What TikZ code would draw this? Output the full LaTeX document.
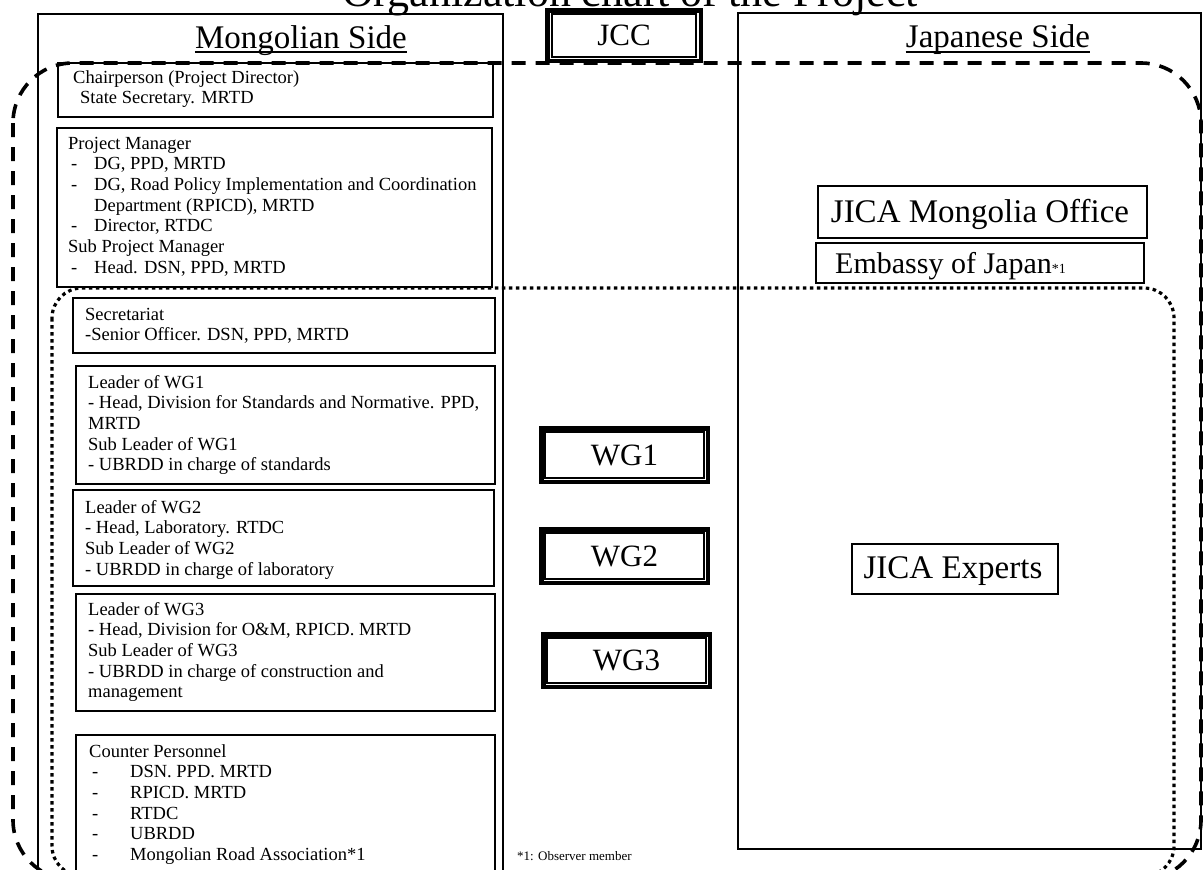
\documentclass[tikz,border=0pt]{standalone}
\usepackage{fontspec}
\setmainfont{Liberation Serif}
\newcommand\bodyfont{\fontsize{18.5}{20.7}\selectfont}
\newcommand\dsh{\makebox[23pt][l]{-}}
\newcommand\cdsh{\hspace*{3pt}\makebox[38pt][l]{-}}
\tikzset{
  box/.style={draw, line width=2.2pt, inner sep=0pt, anchor=north west},
  dblbox/.style={draw, line width=4.5pt, inner sep=0pt, font=\fontsize{31}{36}\selectfont},
  inner/.style={line width=1.3pt},
  txt/.style={inner sep=0pt, anchor=base west, font=\bodyfont},
  big/.style={inner sep=0pt, anchor=base, font=\fontsize{33}{38}\selectfont},
  dashedframe/.style={line width=3.6pt, dash pattern=on 14pt off 10pt, rounded corners=60pt},
  dottedframe/.style={line width=3.2pt, dash pattern=on 3.5pt off 3.5pt, rounded corners=30pt},
}
\begin{document}
\begin{tikzpicture}[x=1pt,y=-1pt]
\useasboundingbox[fill=white] (0,0) rectangle (1203,870);

% title (mostly cut off)
\node[inner sep=0pt, anchor=base, font=\fontsize{44}{50}\selectfont] (title) at (630,6) {Organization chart of the Project};

% side frames
\node[box, minimum width=465pt, minimum height=887pt] (mong) at (37,13) {};
\node[box, minimum width=463pt, minimum height=836pt] (jap) at (737,12) {};

% headings
\node[big] (mside) at (301,48) {Mongolian Side};
\draw[line width=1.2pt] ([yshift=-4pt]mside.base west) -- ([yshift=-4pt]mside.base east);
\node[big] (jside) at (998,47) {Japanese Side};
\draw[line width=1.2pt] ([yshift=-5pt]jside.base west) -- ([yshift=-5pt]jside.base east);

% JCC and WG boxes
\node[dblbox, minimum width=153.5pt, minimum height=50.5pt] (jcc) at (624,35.5) {JCC};
\draw[inner] ([shift={(7pt,-6pt)}]jcc.north west) rectangle ([shift={(-7pt,6pt)}]jcc.south east);
\node[dblbox, minimum width=166.5pt, minimum height=53.5pt] (wg1) at (624.5,455) {WG1};
\draw[inner] ([shift={(6pt,-6pt)}]wg1.north west) rectangle ([shift={(-6pt,6pt)}]wg1.south east);
\node[dblbox, minimum width=166.5pt, minimum height=53.5pt] (wg2) at (624.5,556) {WG2};
\draw[inner] ([shift={(6pt,-6pt)}]wg2.north west) rectangle ([shift={(-6pt,6pt)}]wg2.south east);
\node[dblbox, minimum width=166.5pt, minimum height=52.5pt] (wg3) at (626.5,660.5) {WG3};
\draw[inner] ([shift={(6pt,-6pt)}]wg3.north west) rectangle ([shift={(-6pt,6pt)}]wg3.south east);

% Mongolian side boxes
\node[box, minimum width=435pt, minimum height=54pt] (chairbox) at (57,62) {};
\node[txt] (chairtxt) at (73,83) {\parbox[t]{415pt}{\bodyfont Chairperson (Project Director)\\\hspace*{7pt}State Secretary. MRTD}};

\node[box, minimum width=435pt, minimum height=159pt] (pmbox) at (56,127) {};
\node[txt] (pmtxt) at (68,149) {\parbox[t]{420pt}{\bodyfont Project Manager\\
\hspace*{3pt}\dsh DG, PPD, MRTD\\
\hspace*{3pt}\dsh DG, Road Policy Implementation and Coordination\\
\hspace*{26pt}Department (RPICD), MRTD\\
\hspace*{3pt}\dsh Director, RTDC\\
Sub Project Manager\\
\hspace*{3pt}\dsh Head. DSN, PPD, MRTD}};

\node[box, minimum width=422pt, minimum height=55pt] (secbox) at (72,297) {};
\node[txt] (sectxt) at (85,320) {\parbox[t]{405pt}{\bodyfont Secretariat\\-Senior Officer. DSN, PPD, MRTD}};

\node[box, minimum width=419pt, minimum height=118pt] (l1box) at (75,365) {};
\node[txt] (l1txt) at (88,388) {\parbox[t]{405pt}{\bodyfont Leader of WG1\\
- Head, Division for Standards and Normative. PPD,\\
MRTD\\
Sub Leader of WG1\\
- UBRDD in charge of standards}};

\node[box, minimum width=421pt, minimum height=96pt] (l2box) at (72,489) {};
\node[txt] (l2txt) at (85,513) {\parbox[t]{405pt}{\bodyfont Leader of WG2\\
- Head, Laboratory. RTDC\\
Sub Leader of WG2\\
- UBRDD in charge of laboratory}};

\node[box, minimum width=419pt, minimum height=117pt] (l3box) at (75,593) {};
\node[txt] (l3txt) at (88,615) {\parbox[t]{405pt}{\bodyfont Leader of WG3\\
- Head, Division for O\&M, RPICD. MRTD\\
Sub Leader of WG3\\
- UBRDD in charge of construction and\\
management}};

\node[box, minimum width=419pt, minimum height=166pt] (cpbox) at (75,734) {};
\node[txt] (cptxt) at (89,757) {\parbox[t]{405pt}{\bodyfont Counter Personnel\\
\cdsh DSN. PPD. MRTD\\
\cdsh RPICD. MRTD\\
\cdsh RTDC\\
\cdsh UBRDD\\
\cdsh Mongolian Road Association*1}};

\node[inner sep=0pt, anchor=base west, font=\fontsize{13}{15}\selectfont] (note) at (517,860) {*1: Observer member};

% Japanese side boxes
\node[box, minimum width=329pt, minimum height=52pt] (jmobox) at (817,185) {};
\node[big] (jmotxt) at (980,222) {JICA Mongolia Office};
\node[box, minimum width=328pt, minimum height=40pt] (embbox) at (815,242) {};
\node[inner sep=0pt, anchor=base west, font=\fontsize{30}{34}\selectfont] (embtxt) at (835,273) {Embassy of Japan{\fontsize{14}{14}\selectfont*1}};
\node[box, minimum width=206pt, minimum height=50pt] (jexbox) at (851,543) {};
\node[big] (jextxt) at (953,578) {JICA Experts};

% dashed and dotted frames
\draw[dashedframe] (13,63) rectangle (1201,880);
\draw[dottedframe] (52,288) rectangle (1174,876);
\end{tikzpicture}
\end{document}
